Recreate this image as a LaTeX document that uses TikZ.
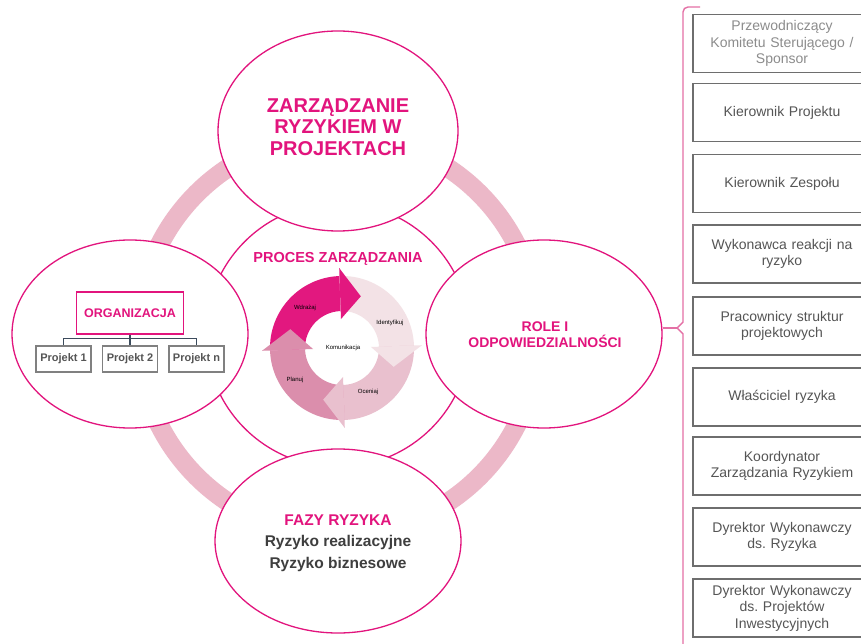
\documentclass[tikz,border=0pt]{standalone}
\usepackage{fontspec}
\setmainfont{Liberation Sans}
\usetikzlibrary{shapes.geometric,calc}
\definecolor{mag}{RGB}{226,20,125}
\definecolor{ringpink}{RGB}{236,184,200}
\definecolor{cwd}{RGB}{226,24,127}
\definecolor{cid}{RGB}{243,226,230}
\definecolor{coc}{RGB}{233,192,206}
\definecolor{cpl}{RGB}{219,142,172}
\definecolor{boxgray}{RGB}{110,110,110}
\definecolor{txtgray}{RGB}{85,85,85}
\definecolor{lightgray}{RGB}{140,140,140}
\definecolor{darktxt}{RGB}{62,62,62}
\definecolor{connc}{RGB}{60,75,92}
\definecolor{brk}{RGB}{228,112,165}
\frenchspacing
\tikzset{
  bubble/.style={ellipse, draw=mag, fill=white, line width=1.3pt, inner sep=0pt},
  magtxt/.style={text=mag, font=\bfseries, align=center},
  orgbox/.style={draw=mag, line width=1.3pt, fill=white, minimum width=107pt, minimum height=42pt, inner sep=0pt, text=mag, font=\fontsize{12.5}{14}\selectfont\bfseries},
  projbox/.style={draw=gray, line width=1.1pt, fill=white, minimum width=55pt, minimum height=26pt, inner sep=0pt, text=txtgray, font=\fontsize{11}{13}\selectfont\bfseries},
  conn/.style={draw=connc, line width=1.1pt},
  rolebox/.style={draw=boxgray, line width=1.3pt, fill=white, minimum width=178pt, minimum height=58pt, inner sep=0pt, text width=172pt, align=center, text=txtgray, font=\fontsize{14}{16.5}\selectfont},
  cyclbl/.style={font=\fontsize{6}{7}\selectfont, text=black, inner sep=0pt},
  brace/.style={draw=brk, line width=1.4pt}
}
\begin{document}
\begin{tikzpicture}[x=1pt,y=1pt]
\useasboundingbox (0,0) rectangle (861,643);
\clip (0,0) rectangle (861,643);
\fill[white] (0,0) rectangle (861,643);

% big ring
\draw[ringpink, line width=19pt] (338,308) circle[radius=200pt];

% central circle
\node[circle, draw=mag, fill=white, line width=1.3pt, minimum size=264pt, inner sep=0pt] (proc) at (338,308) {};

% four ellipses
\node[bubble, minimum width=240pt, minimum height=200pt] (top) at (338,512) {};
\node[bubble, minimum width=236pt, minimum height=188pt] (org) at (130,309) {};
\node[bubble, minimum width=236pt, minimum height=188pt] (roles) at (544,309) {};
\node[bubble, minimum width=246pt, minimum height=184pt] (fazy) at (338,102) {};

% texts of ellipses
\node[magtxt, font=\fontsize{20}{21.5}\selectfont\bfseries] (toptxt) at (338,516) {ZARZĄDZANIE\\RYZYKIEM W\\PROJEKTACH};
\node[magtxt, font=\fontsize{14.5}{16}\selectfont\bfseries] (proctxt) at (338,384) {PROCES ZARZĄDZANIA};
\node[magtxt, font=\fontsize{14}{15.5}\selectfont\bfseries] (rolestxt) at (545,308.5) {ROLE I\\ODPOWIEDZIALNOŚCI};
\node[magtxt, font=\fontsize{15.5}{17}\selectfont\bfseries] (fazytxt) at (338,123) {FAZY RYZYKA};
\node[text=darktxt, font=\fontsize{15.5}{22}\selectfont\bfseries, align=center] (ryz) at (338,90) {Ryzyko realizacyjne\\Ryzyko biznesowe};

% cycle
\coordinate (cyc) at (342,295);
\fill[cwd] ($(cyc)+(182:72pt)$) arc[start angle=182, end angle=92, radius=72pt] -- ($(cyc)+(92:37pt)$) arc[start angle=92, end angle=182, radius=37pt] -- cycle;
\fill[cid] ($(cyc)+(92:72pt)$) arc[start angle=92, end angle=2, radius=72pt] -- ($(cyc)+(2:37pt)$) arc[start angle=2, end angle=92, radius=37pt] -- cycle;
\fill[coc] ($(cyc)+(2:72pt)$) arc[start angle=2, end angle=-88, radius=72pt] -- ($(cyc)+(-88:37pt)$) arc[start angle=-88, end angle=2, radius=37pt] -- cycle;
\fill[cpl] ($(cyc)+(-88:72pt)$) arc[start angle=-88, end angle=-178, radius=72pt] -- ($(cyc)+(-178:37pt)$) arc[start angle=-178, end angle=-88, radius=37pt] -- cycle;
% heads
\fill[cwd] ($(cyc)+(92:80pt)$) -- ($(cyc)+(70:55pt)$) -- ($(cyc)+(92:29pt)$) -- cycle;
\fill[cid] ($(cyc)+(2:80pt)$) -- ($(cyc)+(-20:55pt)$) -- ($(cyc)+(2:29pt)$) -- cycle;
\fill[coc] ($(cyc)+(-88:80pt)$) -- ($(cyc)+(-110:55pt)$) -- ($(cyc)+(-88:29pt)$) -- cycle;
\fill[cpl] ($(cyc)+(-178:80pt)$) -- ($(cyc)+(-200:55pt)$) -- ($(cyc)+(-178:29pt)$) -- cycle;
\node[cyclbl] (lwd) at (305,335) {Wdrażaj};
\node[cyclbl] (lid) at (390,320) {Identyfikuj};
\node[cyclbl] (loc) at (368,251) {Oceniaj};
\node[cyclbl] (lpl) at (295,263) {Planuj};
\node[cyclbl] (lko) at (343,295) {Komunikacja};

% org chart
\node[orgbox] (organ) at (130,330) {ORGANIZACJA};
\node[projbox] (p1) at (63.5,284) {Projekt 1};
\node[projbox] (p2) at (130,284) {Projekt 2};
\node[projbox] (pn) at (196.5,284) {Projekt n};
\draw[conn] (p1.north) -- ++(0,7) -| (pn.north);
\draw[conn] (organ.south) -- (p2.north);

% role boxes
\node[rolebox, text=lightgray] (r1) at (782,599.5) {Przewodniczący\\Komitetu Sterującego /\\Sponsor};
\node[rolebox] (r2) at (782,530.5) {Kierownik Projektu};
\node[rolebox] (r3) at (782,459.5) {Kierownik Zespołu};
\node[rolebox] (r4) at (782,389) {Wykonawca reakcji na\\ryzyko};
\node[rolebox] (r5) at (782,317) {Pracownicy struktur\\projektowych};
\node[rolebox] (r6) at (782,246) {Właściciel ryzyka};
\node[rolebox] (r7) at (782,177) {Koordynator\\Zarządzania Ryzykiem};
\node[rolebox] (r8) at (782,106) {Dyrektor Wykonawczy\\ds. Ryzyka};
\node[rolebox] (r9) at (782,35) {Dyrektor Wykonawczy\\ds. Projektów\\Inwestycyjnych};

% bracket
\coordinate (tip) at (677,315);
\draw[brace] (700,636) -- (688,636) arc[start angle=90, end angle=180, radius=5pt] -- (683,321) -- (tip) -- (683,309) -- (683,-3);
\draw[brace] (tip) -- (tip -| roles.east);
\end{tikzpicture}
\end{document}
